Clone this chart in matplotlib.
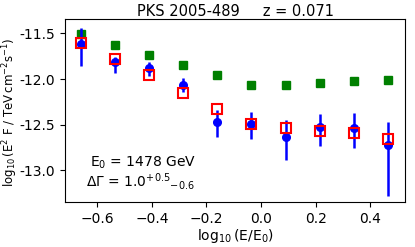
import matplotlib
matplotlib.use('Agg')
import matplotlib.pyplot as plt
import numpy as np

# log10(E/E0) bins
x = [-0.66, -0.535, -0.41, -0.285, -0.16, -0.035, 0.09, 0.215, 0.34, 0.465]

# measured points with error bars
meas = [-11.62, -11.815, -11.88, -12.065, -12.47, -12.49, -12.63, -12.53, -12.535, -12.72]
meas_hi = [-11.443, -11.754, -11.81, -11.99, -12.34, -12.36, -12.45, -12.385, -12.375, -12.475]
meas_lo = [-11.86, -11.93, -11.97, -12.14, -12.64, -12.655, -12.885, -12.73, -12.76, -13.28]

# model (open red squares)
model = [-11.61, -11.78, -11.96, -12.155, -12.33, -12.49, -12.54, -12.57, -12.59, -12.66]

# intrinsic (green squares)
intrinsic = [-11.51, -11.63, -11.735, -11.85, -11.96, -12.06, -12.065, -12.04, -12.025, -12.005]

yticks = [-11.5, -12.0, -12.5, -13.0]
ytick_labels = ['-11.5', '-12.0', '-12.5', '-13.0']

fig = plt.figure(figsize=(4.15, 2.47), dpi=100)
ax = fig.add_axes([0.157, 0.181, 0.819, 0.741])

yerr = [np.array(meas) - np.array(meas_lo), np.array(meas_hi) - np.array(meas)]
ax.plot(x, intrinsic, 's', color='green', markersize=5.5, zorder=2)
ax.errorbar(x, meas, yerr=yerr, fmt='o', color='blue', markersize=5.5,
            elinewidth=1.8, capsize=0, zorder=3)
ax.plot(x, model, 's', mfc='none', mec='red', mew=1.5, markersize=7, zorder=4)

ax.set_xlim(-0.718, 0.528)
ax.set_ylim(-13.35, -11.345)
ax.set_xticks([-0.6, -0.4, -0.2, 0.0, 0.2, 0.4])
ax.set_yticks(yticks)
ax.set_yticklabels(ytick_labels)
ax.tick_params(labelsize=10)

ax.set_title('PKS 2005-489     z = 0.071', fontsize=10.5, pad=2)
ax.set_xlabel(r'$\log_{10}$(E/E$_0$)', fontsize=10, labelpad=1)
ax.set_ylabel(r'$\log_{10}$(E$^2$ F / TeV$\,$cm$^{-2}$s$^{-1}$)', fontsize=8.5)
ax.yaxis.set_label_coords(-0.133, 0.49)

ax.text(-0.627, -12.92, r'E$_0$ = 1478 GeV', fontsize=10, va='center')
ax.text(-0.64, -13.12, r'$\Delta\Gamma$ = 1.0$^{+0.5}$$_{-0.6}$', fontsize=10, va='center')

fig.savefig('out.png', dpi=100)
